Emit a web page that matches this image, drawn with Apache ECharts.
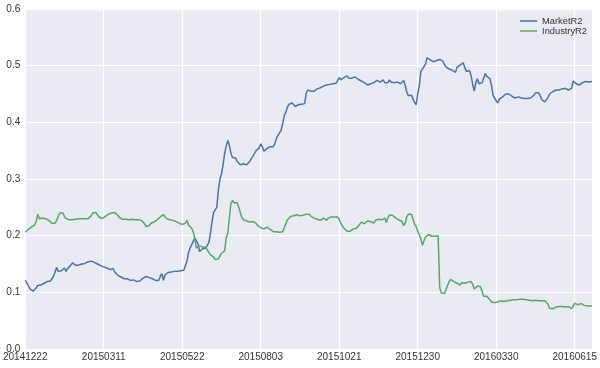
<!DOCTYPE html>
<html>
<head>
<meta charset="utf-8">
<script src="https://cdn.jsdelivr.net/npm/echarts@6/dist/echarts.min.js"></script>
<style>html,body{margin:0;padding:0;background:#fff}#c{width:600px;height:368px}</style>
</head>
<body>
<div id="c"></div>
<script>
var tickLabels = ['20141222','20150311','20150522','20150803','20151021','20151230','20160330','20160615'];
var seriesNames = ['MarketR2','IndustryR2'];
var marketR2 = [
0.121,0.118,0.112,0.106,0.103,0.102,0.104,0.108,0.112,0.114,
0.113,0.115,0.116,0.117,0.119,0.118,0.120,0.120,0.128,0.136,
0.144,0.137,0.138,0.138,0.140,0.143,0.137,0.142,0.145,0.148,
0.152,0.149,0.148,0.147,0.148,0.149,0.150,0.150,0.151,0.153,
0.154,0.154,0.155,0.154,0.153,0.152,0.150,0.148,0.147,0.146,
0.145,0.144,0.143,0.141,0.140,0.141,0.142,0.136,0.133,0.130,
0.128,0.127,0.125,0.124,0.123,0.124,0.125,0.121,0.123,0.122,
0.120,0.119,0.121,0.120,0.122,0.125,0.126,0.128,0.127,0.126,
0.125,0.124,0.123,0.121,0.120,0.121,0.128,0.133,0.121,0.131,
0.134,0.135,0.135,0.136,0.137,0.137,0.136,0.137,0.138,0.138,
0.138,0.139,0.141,0.155,0.170,0.178,0.184,0.190,0.196,0.197,
0.186,0.172,0.175,0.177,0.178,0.178,0.181,0.188,0.205,0.225,
0.241,0.242,0.250,0.280,0.300,0.309,0.325,0.345,0.358,0.368,
0.360,0.345,0.338,0.337,0.337,0.331,0.330,0.325,0.322,0.327,
0.326,0.325,0.327,0.331,0.336,0.340,0.345,0.350,0.353,0.355,
0.362,0.357,0.349,0.348,0.354,0.356,0.357,0.357,0.357,0.362,
0.372,0.377,0.375,0.386,0.398,0.412,0.418,0.427,0.432,0.435,
0.434,0.431,0.428,0.425,0.431,0.433,0.432,0.431,0.433,0.452,
0.457,0.455,0.455,0.457,0.455,0.456,0.459,0.460,0.461,0.463,
0.464,0.465,0.466,0.467,0.467,0.468,0.468,0.468,0.469,0.470,
0.479,0.475,0.478,0.479,0.481,0.482,0.478,0.475,0.478,0.479,
0.480,0.478,0.476,0.475,0.473,0.472,0.470,0.467,0.466,0.466,
0.468,0.469,0.470,0.472,0.474,0.476,0.471,0.474,0.475,0.470,
0.468,0.470,0.475,0.471,0.469,0.470,0.470,0.471,0.473,0.468,
0.466,0.474,0.465,0.454,0.447,0.448,0.448,0.441,0.435,0.431,
0.450,0.465,0.490,0.494,0.496,0.503,0.514,0.517,0.510,0.508,
0.507,0.508,0.509,0.510,0.511,0.511,0.508,0.502,0.498,0.496,
0.494,0.493,0.492,0.491,0.488,0.497,0.500,0.501,0.500,0.505,
0.496,0.490,0.490,0.491,0.482,0.467,0.455,0.470,0.477,0.468,
0.469,0.470,0.478,0.486,0.481,0.480,0.477,0.465,0.448,0.442,
0.438,0.434,0.441,0.443,0.445,0.447,0.450,0.452,0.450,0.448,
0.446,0.445,0.443,0.444,0.445,0.444,0.443,0.441,0.442,0.443,
0.442,0.441,0.443,0.445,0.448,0.452,0.454,0.452,0.447,0.440,
0.437,0.436,0.437,0.444,0.450,0.452,0.454,0.455,0.457,0.456,
0.457,0.460,0.459,0.458,0.460,0.459,0.457,0.458,0.460,0.473,
0.470,0.468,0.468,0.466,0.468,0.470,0.471,0.472,0.472,0.471,
0.472,0.472
];
var industryR2 = [
0.206,0.208,0.211,0.213,0.215,0.217,0.219,0.225,0.238,0.230,
0.229,0.231,0.230,0.230,0.228,0.227,0.224,0.222,0.221,0.222,
0.227,0.234,0.240,0.242,0.240,0.234,0.230,0.228,0.228,0.227,
0.228,0.228,0.229,0.229,0.230,0.231,0.230,0.229,0.230,0.231,
0.230,0.230,0.235,0.240,0.242,0.241,0.237,0.233,0.231,0.230,
0.232,0.234,0.236,0.238,0.239,0.240,0.240,0.241,0.239,0.236,
0.232,0.230,0.229,0.229,0.229,0.229,0.228,0.228,0.229,0.229,
0.228,0.227,0.228,0.228,0.227,0.226,0.221,0.216,0.213,0.218,
0.222,0.225,0.224,0.224,0.228,0.231,0.233,0.235,0.237,0.234,
0.230,0.228,0.228,0.227,0.227,0.226,0.225,0.223,0.222,0.221,
0.220,0.219,0.222,0.227,0.219,0.216,0.213,0.207,0.195,0.178,
0.181,0.182,0.182,0.180,0.181,0.179,0.175,0.170,0.166,0.164,
0.162,0.158,0.155,0.159,0.164,0.169,0.166,0.173,0.196,0.204,
0.205,0.257,0.262,0.258,0.255,0.258,0.250,0.241,0.232,0.228,
0.225,0.226,0.226,0.224,0.223,0.225,0.224,0.222,0.218,0.215,
0.214,0.213,0.212,0.213,0.215,0.216,0.211,0.208,0.207,0.206,
0.207,0.207,0.206,0.207,0.207,0.208,0.221,0.228,0.231,0.234,
0.234,0.235,0.236,0.237,0.236,0.235,0.233,0.236,0.237,0.238,
0.240,0.238,0.234,0.232,0.231,0.230,0.229,0.228,0.227,0.230,
0.231,0.228,0.227,0.231,0.232,0.233,0.233,0.233,0.233,0.233,
0.229,0.222,0.217,0.213,0.211,0.208,0.207,0.208,0.210,0.212,
0.214,0.213,0.213,0.220,0.224,0.225,0.221,0.222,0.226,0.226,
0.225,0.223,0.222,0.227,0.229,0.229,0.229,0.228,0.230,0.231,
0.223,0.232,0.236,0.238,0.236,0.233,0.231,0.230,0.228,0.227,
0.225,0.218,0.222,0.233,0.238,0.238,0.238,0.235,0.220,0.216,
0.208,0.205,0.194,0.183,0.191,0.198,0.200,0.202,0.199,0.199,
0.200,0.199,0.199,0.200,0.108,0.099,0.099,0.098,0.101,0.112,
0.119,0.123,0.121,0.119,0.118,0.116,0.115,0.113,0.117,0.117,
0.116,0.119,0.118,0.118,0.119,0.114,0.106,0.105,0.111,0.111,
0.110,0.109,0.093,0.093,0.093,0.092,0.087,0.083,0.082,0.082,
0.082,0.083,0.084,0.085,0.085,0.084,0.084,0.085,0.086,0.086,
0.087,0.087,0.087,0.087,0.087,0.088,0.088,0.088,0.087,0.087,
0.086,0.086,0.085,0.085,0.086,0.086,0.085,0.085,0.085,0.085,
0.085,0.085,0.085,0.079,0.072,0.070,0.071,0.072,0.074,0.075,
0.075,0.074,0.075,0.075,0.074,0.072,0.075,0.072,0.071,0.069,
0.081,0.079,0.078,0.081,0.080,0.078,0.077,0.076,0.076,0.076,
0.076,0.076
];

function pairs(arr){ return arr.map(function(v,i){ return [i, v]; }); }

var chart = echarts.init(document.getElementById('c'), null, {renderer:'canvas'});
var labelFont = {color:'#333', fontSize:10, fontFamily:'"Liberation Sans", Arial, sans-serif'};
chart.setOption({
  animation:false,
  backgroundColor:'#ffffff',
  grid:{left:25, right:8, top:9, bottom:19, show:true, backgroundColor:'#EAEAF2', borderWidth:0},
  legend:{
    top:11, right:8, orient:'vertical', itemGap:0, itemWidth:17, itemHeight:1.5,
    icon:'rect',
    textStyle:{color:'#333', fontSize:9.3, lineHeight:10, fontFamily:'"Liberation Sans", Arial, sans-serif'},
    data:seriesNames
  },
  xAxis:{
    type:'value', min:0, max:marketR2.length-1, interval:50,
    axisLine:{show:false}, axisTick:{show:false},
    splitLine:{show:true, lineStyle:{color:'#ffffff', width:1.2}},
    axisLabel:Object.assign({margin:3, showMaxLabel:false, formatter:function(v){
      var k = v/50; return (k===Math.floor(k) && tickLabels[k]) ? tickLabels[k] : '';
    }}, labelFont)
  },
  yAxis:{
    type:'value', min:0, max:0.6, interval:0.1,
    axisLine:{show:false}, axisTick:{show:false},
    splitLine:{show:true, lineStyle:{color:'#ffffff', width:1.2}},
    axisLabel:Object.assign({margin:5, formatter:function(v){ return v.toFixed(1); }}, labelFont)
  },
  series:[
    {name:seriesNames[0], type:'line', data:pairs(marketR2), symbol:'none', showSymbol:false,
     lineStyle:{color:'#4C72B0', width:1.5}, itemStyle:{color:'#4C72B0'}},
    {name:seriesNames[1], type:'line', data:pairs(industryR2), symbol:'none', showSymbol:false,
     lineStyle:{color:'#55A868', width:1.5}, itemStyle:{color:'#55A868'}}
  ]
});
</script>
</body>
</html>
